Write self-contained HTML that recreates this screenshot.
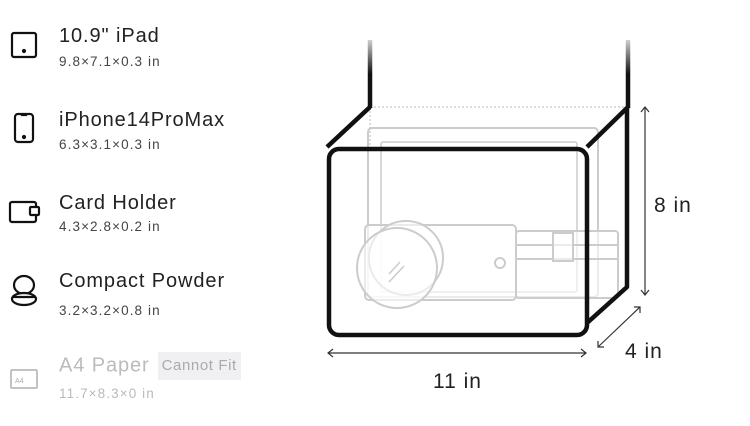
<!DOCTYPE html>
<html><head><style>
body{margin:0;width:750px;height:426px;background:#fff;position:relative;font-family:"Liberation Sans",sans-serif;overflow:hidden}
.t{position:absolute;left:59px;font-size:20px;color:#222;line-height:24px;letter-spacing:0.9px}
.s{position:absolute;left:59px;font-size:13.5px;color:#444;line-height:16px;letter-spacing:1.1px}
.g{color:#bbb}
.tag{display:inline-block;background:#f0f0f3;color:#aaa;font-size:15px;padding:2px 4px;margin-left:8px;vertical-align:middle;letter-spacing:0.6px}
</style></head><body>
<div class="t" style="top:24px">10.9" iPad</div><div class="s" style="top:54px">9.8×7.1×0.3 in</div>
<div class="t" style="top:108px">iPhone14ProMax</div><div class="s" style="top:137px">6.3×3.1×0.3 in</div>
<div class="t" style="top:191px">Card Holder</div><div class="s" style="top:219px">4.3×2.8×0.2 in</div>
<div class="t" style="top:269px">Compact Powder</div><div class="s" style="top:303px">3.2×3.2×0.8 in</div>
<div class="t g" style="top:352px">A4 Paper<span class="tag">Cannot Fit</span></div><div class="s g" style="top:386px">11.7×8.3×0 in</div>
<svg width="750" height="426" style="position:absolute;left:0;top:0" fill="none">
<defs><linearGradient id="fd" x1="0" y1="0" x2="0" y2="1"><stop offset="0" stop-color="#111" stop-opacity="0.2"/><stop offset="0.5" stop-color="#111"/></linearGradient></defs>
<g stroke="#111" stroke-width="2.2">
<rect x="12" y="33" width="24" height="24" rx="2"/><circle cx="24" cy="51" r="1" fill="#111"/>
<rect x="15" y="114" width="18" height="28" rx="3"/><line x1="21" y1="115" x2="27" y2="115"/><circle cx="24" cy="137" r="1" fill="#111"/>
<rect x="10" y="202" width="26" height="20" rx="2"/><rect x="30" y="207" width="9" height="8" rx="1" fill="#fff"/>
<ellipse cx="24" cy="285" rx="10" ry="9"/><ellipse cx="24" cy="299" rx="12" ry="6" fill="#fff"/><line x1="12" y1="297" x2="36" y2="297"/>
</g>
<g stroke="#bbb" stroke-width="1.8"><rect x="11" y="370" width="26" height="18" rx="1"/></g>
<text x="15" y="383" font-size="7" fill="#aaa" font-family="Liberation Sans">A4</text>
<g stroke="#ccc" stroke-width="2" fill="rgba(255,255,255,0.6)">
<rect x="368" y="128" width="230" height="169" rx="4"/>
<rect x="381" y="142" width="196" height="150" rx="2" stroke-width="1.5"/>
<rect x="516" y="231" width="102" height="67" rx="3"/>
<line x1="516" y1="245" x2="618" y2="245"/><line x1="516" y1="259" x2="618" y2="259"/>
<rect x="553" y="233" width="20" height="28"/>
<rect x="365" y="225" width="151" height="75" rx="4"/>
<circle cx="500" cy="263" r="5"/>
<circle cx="406" cy="258" r="37"/>
<circle cx="397" cy="268" r="40"/>
<line x1="389" y1="274" x2="400" y2="262" stroke-width="1.5"/><line x1="389" y1="282" x2="404" y2="266" stroke-width="1.5"/>
</g>
<line x1="370" y1="107" x2="627" y2="107" stroke="#bbb" stroke-dasharray="2 2"/>
<line x1="370" y1="107" x2="370" y2="147" stroke="#bbb" stroke-dasharray="2 2"/>
<g stroke="#111" stroke-width="4.5" stroke-linejoin="round">
<path d="M370 107 L327 147"/><path d="M628 107 L587 147"/>
<path d="M627 107 V287 L587 323"/>
<rect x="329" y="149" width="258" height="186" rx="10"/>
</g>
<rect x="367.75" y="40" width="4.5" height="68" fill="url(#fd)"/>
<rect x="625.75" y="40" width="4.5" height="68" fill="url(#fd)"/>
<g stroke="#333" stroke-width="1.2">
<path d="M328 353 H586 M333 349 L328 353 L333 357 M581 349 L586 353 L581 357"/>
<path d="M645 107 V295 M641 112 L645 107 L649 112 M641 290 L645 295 L649 290"/>
<path d="M598 347 L640 307 M598 341 L598 347 L604 347 M634 307 L640 307 L640 313"/>
</g>
<g font-family="Liberation Sans" font-size="21" fill="#222" letter-spacing="1">
<text x="433" y="388">11 in</text><text x="654" y="212">8 in</text><text x="625" y="358">4 in</text>
</g>
</svg>
</body></html>
